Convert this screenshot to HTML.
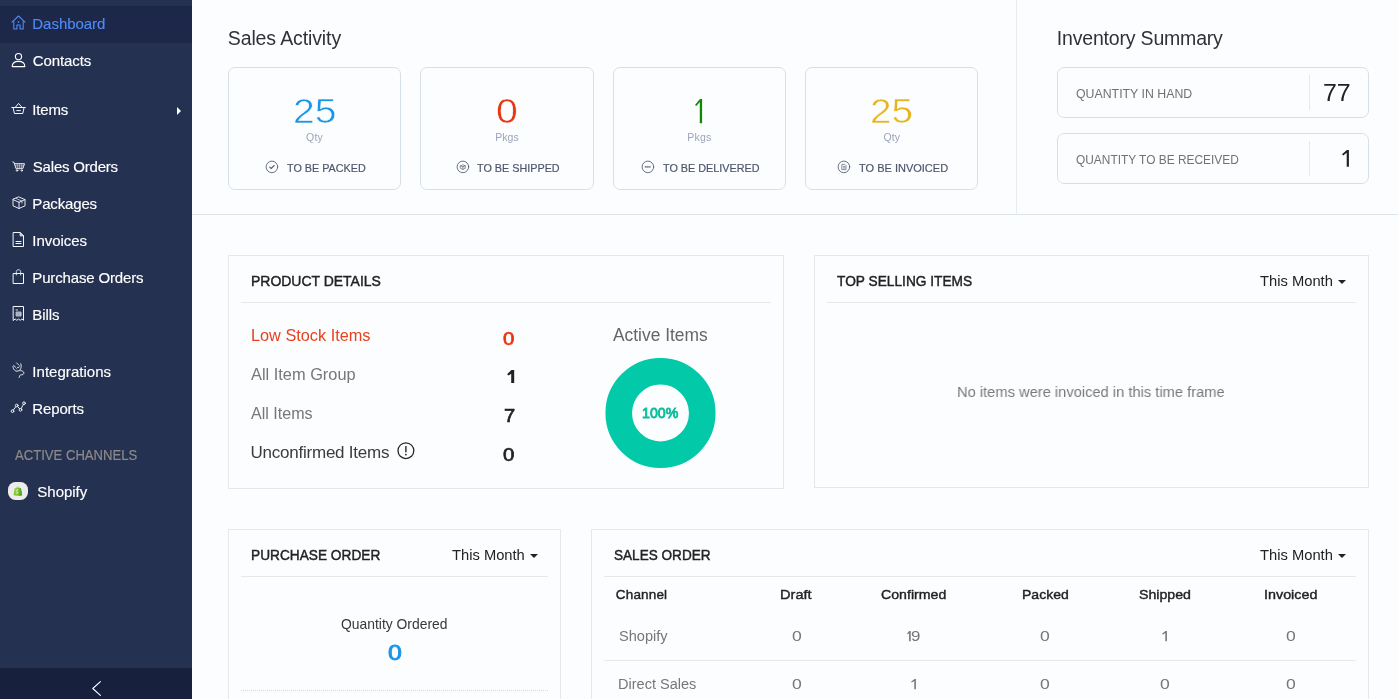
<!DOCTYPE html>
<html>
<head>
<meta charset="utf-8">
<title>Dashboard</title>
<style>
*{box-sizing:border-box;margin:0;padding:0}
html,body{width:1398px;height:699px;overflow:hidden;background:#fcfdff;font-family:"Liberation Sans",sans-serif;color:#222}
#root{position:absolute;left:0;top:0;width:1398px;height:699px;overflow:hidden;will-change:transform}
.abs{position:absolute}
.t{position:absolute;white-space:nowrap;line-height:1}
#side{position:absolute;left:0;top:0;width:192px;height:699px;background:#243150}
#side .act{position:absolute;left:0;top:6px;width:192px;height:37px;background:#1c2749}
#side .bot{position:absolute;left:0;top:668px;width:192px;height:31px;background:#17203d}
.mi{position:absolute;left:33px;color:#fff;font-size:15px;white-space:nowrap;line-height:1;-webkit-text-stroke:0.3px #fff}
.ic{position:absolute;left:11px;width:15px;height:15px}
.ic svg{display:block}
.card{position:absolute;top:67px;height:123px;border:1px solid #d7e0e7;border-radius:7px;background:#fcfdff}
.num{position:absolute;left:0;width:100%;text-align:center;top:29px;font-size:36px;line-height:1}
.unit{position:absolute;left:0;width:100%;text-align:center;top:64px;font-size:11px;color:#99a3b8;line-height:1}
.lbl{position:absolute;top:94px;font-size:12px;color:#4b556b;white-space:nowrap;line-height:1}
.inv{position:absolute;left:1057px;width:312px;height:51px;border:1px solid #d7e0e7;border-radius:7px;background:#fcfdff}
.panel{position:absolute;border:1px solid #e8e8eb;background:#fcfdff}
.ph{position:absolute;font-size:15px;color:#222;white-space:nowrap;line-height:1;-webkit-text-stroke:0.35px #222}
.hr{position:absolute;height:1px;background:#e6e8ec}
.dd{position:absolute;font-size:15px;color:#222;white-space:nowrap;line-height:1}
.caret{position:absolute;width:0;height:0;border-left:4px solid transparent;border-right:4px solid transparent;border-top:4px solid #222}
.th{position:absolute;font-size:14px;color:#222;white-space:nowrap;line-height:1;-webkit-text-stroke:0.35px #222;transform:translateX(-50%)}
.td{position:absolute;font-size:15px;color:#777;white-space:nowrap;line-height:1;transform:translateX(-50%)}
</style>
</head>
<body>
<div id="root">
<!-- SIDEBAR -->
<div id="side">
  <div class="act"></div>
  <div class="bot"></div>
  <!-- home -->
  <svg class="abs" style="left:11px;top:15px" width="15" height="15" viewBox="0 0 15 15" fill="none" stroke="#4f8af5" stroke-width="1.1" stroke-linejoin="round" stroke-linecap="round"><path d="M1 7.2 L7.5 1 L14 7.2"/><path d="M2.8 6.2 V14 H5.9 V10 H9.1 V14 H12.2 V6.2"/><path d="M7.5 6.3 V7.5 M6.9 6.9 H8.1" stroke-width="0.8"/></svg>
  <!-- contacts -->
  <svg class="abs" style="left:11px;top:52px" width="15" height="16" viewBox="0 0 15 16" fill="none" stroke="#fff" stroke-width="1.1" stroke-linejoin="round"><circle cx="7.5" cy="4.6" r="3.1"/><path d="M1.2 14.6 C1.2 10.6 4 9.4 7.5 9.4 C11 9.4 13.8 10.6 13.8 14.6 Z"/></svg>
  <!-- items basket -->
  <svg class="abs" style="left:10px;top:102px" width="17" height="13" viewBox="0 0 17 13" fill="none" stroke="#f4f6fa" stroke-width="1" stroke-linejoin="round" stroke-linecap="round"><path d="M1.8 5.5 H15.4"/><path d="M3.1 5.5 L4.4 11.5 H12.8 L14.1 5.5"/><path d="M5.3 5.3 L8.6 1.4 L11.9 5.3"/><path d="M6.8 8.6 H10.4"/></svg>
  <!-- caret right -->
  <div class="abs" style="left:177px;top:107px;width:0;height:0;border-top:4px solid transparent;border-bottom:4px solid transparent;border-left:4.5px solid #fff"></div>
  <!-- sales orders cart -->
  <svg class="abs" style="left:11.5px;top:160.5px" width="14" height="12" viewBox="0 0 14 12" fill="none" stroke="#f2f4f8" stroke-width="0.95" stroke-linejoin="round" stroke-linecap="round"><path d="M0.8 1 L2 1.3 L4 7.7 H10.8 L12.5 2.7 H2.6"/><path d="M3.2 4.3 H11.9 M3.7 6 H11.3 M5.2 2.9 L5.8 7.5 M7.5 2.9 V7.5 M9.9 2.9 L9.3 7.5" stroke-width="0.55" opacity="0.85"/><circle cx="5" cy="9.5" r="0.75"/><circle cx="9.8" cy="9.5" r="0.75"/></svg>
  <!-- packages box -->
  <svg class="abs" style="left:11.5px;top:195.5px" width="14" height="14" viewBox="0 0 14 14" fill="none" stroke="#f2f4f8" stroke-width="0.95" stroke-linejoin="round" stroke-linecap="round"><path d="M7 1 L13 3.6 V9.8 L7 12.5 L1 9.8 V3.6 Z"/><path d="M1 3.6 L7 6.3 L13 3.6 M7 6.3 V12.5"/><path d="M4 2.4 L10 5.2 V7.2" stroke-width="0.7"/></svg>
  <!-- invoices doc -->
  <svg class="abs" style="left:12px;top:232px" width="13" height="16" viewBox="0 0 13 16" fill="none" stroke="#f4f6fa" stroke-width="1" stroke-linejoin="round" stroke-linecap="round"><path d="M1.5 0.5 H8 L11.5 4 V14.5 H1.5 Z"/><path d="M8 0.5 V4 H11.5 Z" stroke-width="0.6" fill="#f4f6fa" fill-opacity="0.7"/><path d="M4 9.5 H9 M4 11.5 H9" stroke-width="1"/></svg>
  <!-- purchase orders bag -->
  <svg class="abs" style="left:12px;top:268px" width="13" height="17" viewBox="0 0 13 17" fill="none" stroke="#f4f6fa" stroke-width="1" stroke-linejoin="round" stroke-linecap="round"><path d="M1.5 5.5 H11.5 V15.5 H1.5 Z"/><path d="M4.3 7 V3.6 C4.3 1.1 8.7 1.1 8.7 3.6 V7" stroke-width="0.85"/></svg>
  <!-- bills receipt -->
  <svg class="abs" style="left:12px;top:305px" width="13" height="17" viewBox="0 0 13 17" fill="none" stroke="#f4f6fa" stroke-width="1" stroke-linejoin="round" stroke-linecap="round"><path d="M1.5 1.5 H11.5 V15.3 L9.85 14 L8.2 15.3 L6.5 14 L4.8 15.3 L3.15 14 L1.5 15.3 Z"/><path d="M4 5 H5.6" stroke-width="0.9"/><path d="M4.5 7 H9 V11 H4.5 Z M4.5 9 H9" stroke-width="0.7" fill="#f4f6fa" fill-opacity="0.45"/></svg>
  <!-- integrations -->
  <svg class="abs" style="left:11px;top:361px" width="15" height="18" viewBox="0 0 15 18" fill="none" stroke="#f4f6fa" stroke-width="0.95" stroke-linejoin="round" stroke-linecap="round"><path d="M2 5.6 C2.2 8.8 4.4 10.6 7 10 C9.6 9.4 10.9 6.4 9.8 2.8"/><path d="M5.6 1.9 L8 4.3 M2.6 4.4 L4.6 6.2" stroke-width="0.9"/><path d="M5.6 7.4 L6.6 6.4 M7.4 6.8 L8.2 5.6" stroke-width="0.8"/><path d="M9 9.7 C11 9.3 13.4 10.8 12.7 12.7 C12 14.5 9.2 13.3 8.7 14.6 C8.4 15.5 8.6 16 8.2 16.5"/></svg>
  <!-- reports -->
  <svg class="abs" style="left:10px;top:401px" width="17" height="14" viewBox="0 0 17 14" fill="none" stroke="#f4f6fa" stroke-width="0.95" stroke-linejoin="round" stroke-linecap="round"><circle cx="2.5" cy="10.2" r="1.35"/><circle cx="6.7" cy="4.5" r="1.35"/><circle cx="10.5" cy="8.8" r="1.35"/><circle cx="14" cy="2.2" r="1.35"/><path d="M3.30 9.11 L5.90 5.59 M7.59 5.51 L9.61 7.79 M11.13 7.61 L13.37 3.39"/></svg>
  <!-- shopify -->
  <div class="abs" style="left:8px;top:482px;width:20px;height:18px;border-radius:7.5px;background:#ececec"></div>
  <svg class="abs" style="left:13px;top:485.5px" width="10" height="11" viewBox="0 0 10 11"><path d="M1.6 2.6 L6.6 1.8 L8 2.4 L9.2 9.3 L6.4 10 L0.6 9.2 Z" fill="#80c531"/><path d="M6.6 1.8 L8 2.4 L9.2 9.3 L6.4 10 Z" fill="#5da52b"/><path d="M3.2 2.6 C3.4 0.6 5.6 0.2 6 2.2" fill="none" stroke="#6db22c" stroke-width="0.6"/><path d="M5 3.9 C4 3.4 3 3.9 3.2 4.8 C3.4 5.6 4.7 5.8 4.6 6.7 C4.5 7.5 3.4 7.4 2.7 6.9" fill="none" stroke="#fff" stroke-width="0.85"/></svg>
  <!-- collapse chevron -->
  <svg class="abs" style="left:90px;top:679px" width="13" height="19" viewBox="0 0 13 19" fill="none" stroke="#fff" stroke-width="1.1" stroke-linecap="round" stroke-linejoin="round"><path d="M10.4 2.6 L2.8 9.5 L10.4 16.4"/></svg>
</div>

<!-- top section lines -->
<div class="abs" style="left:192px;top:214px;width:1206px;height:1px;background:#dfe4e8"></div>
<div class="abs" style="left:1016px;top:0;width:1px;height:214px;background:#e6ecef"></div>

<!-- cards -->
<div class="card" style="left:228px;width:173px"></div>
<div class="card" style="left:420px;width:174px"></div>
<div class="card" style="left:613px;width:173px"></div>
<div class="card" style="left:805px;width:173px"></div>
<!-- card icons -->
<svg class="abs" style="left:265px;top:160px" width="14" height="14" viewBox="0 0 14 14" fill="none" stroke="#596277" stroke-width="0.9" stroke-linecap="round" stroke-linejoin="round"><circle cx="6.9" cy="6.9" r="5.8"/><path d="M4.7 7.1 L6.2 8.5 L9.2 5.5" stroke-width="1.1"/></svg>
<svg class="abs" style="left:455.7px;top:160px" width="14" height="14" viewBox="0 0 14 14" fill="none" stroke="#596277" stroke-width="0.9" stroke-linecap="round" stroke-linejoin="round"><circle cx="6.9" cy="6.9" r="5.8"/><path d="M4.6 5.8 L6.9 4.8 L9.2 5.8 V8.4 L6.9 9.4 L4.6 8.4 Z M4.6 5.8 L6.9 6.8 L9.2 5.8 M6.9 6.8 V9.4" stroke-width="0.7"/></svg>
<svg class="abs" style="left:641px;top:160px" width="14" height="14" viewBox="0 0 14 14" fill="none" stroke="#596277" stroke-width="0.9" stroke-linecap="round" stroke-linejoin="round"><circle cx="6.9" cy="6.9" r="5.8"/><path d="M4.3 6.9 H9.5" stroke-width="1.3" stroke-dasharray="0.8 1.2"/></svg>
<svg class="abs" style="left:837px;top:160px" width="14" height="14" viewBox="0 0 14 14" fill="none" stroke="#596277" stroke-width="0.9" stroke-linecap="round" stroke-linejoin="round"><circle cx="6.9" cy="6.9" r="5.8"/><path d="M5.2 4.4 H7.8 L9 5.6 V9.6 H5.2 Z M6.2 6.6 H8 M6.2 8 H8" stroke-width="0.7"/></svg>

<!-- inventory boxes -->
<div class="inv" style="top:67px"></div>
<div class="inv" style="top:133px"></div>
<div class="abs" style="left:1309px;top:75px;width:1px;height:35px;background:#e3e8ec"></div>
<div class="abs" style="left:1309px;top:141px;width:1px;height:35px;background:#e3e8ec"></div>

<!-- panels -->
<div class="panel" style="left:228px;top:255px;width:556px;height:234px"></div>
<div class="hr" style="left:241px;top:302px;width:530px"></div>
<div class="panel" style="left:814px;top:255px;width:555px;height:233px"></div>
<div class="hr" style="left:827px;top:302px;width:529px"></div>
<div class="panel" style="left:228px;top:529px;width:333px;height:200px"></div>
<div class="hr" style="left:241px;top:576px;width:307px"></div>
<div class="abs" style="left:241px;top:690px;width:307px;height:0;border-top:1px dotted #d8dade"></div>
<div class="panel" style="left:591px;top:529px;width:778px;height:200px"></div>
<div class="hr" style="left:604px;top:576px;width:752px"></div>
<div class="hr" style="left:604px;top:660px;width:752px"></div>

<!-- carets -->
<div class="caret" style="left:1338px;top:280px"></div>
<div class="caret" style="left:530px;top:554px"></div>
<div class="caret" style="left:1338px;top:554px"></div>

<!-- info icon -->
<svg class="abs" style="left:397px;top:441.5px" width="18" height="18" viewBox="0 0 18 18" fill="none" stroke="#222" stroke-width="1.25" stroke-linecap="round"><circle cx="8.9" cy="8.7" r="7.9"/><path d="M8.9 4.6 V9.8" stroke-width="1.4"/><circle cx="8.9" cy="12.6" r="0.9" fill="#222" stroke="none"/></svg>

<!-- donut -->
<svg class="abs" style="left:600px;top:353px" width="122" height="122" viewBox="0 0 122 122"><circle cx="60.5" cy="60" r="41.75" fill="none" stroke="#02c9a8" stroke-width="26.6"/></svg>

<div class="t" style="top:16.00px;font-size:15px;color:#4f8af5;left:32.33px;letter-spacing:-0.038px;-webkit-text-stroke:0.15px #4f8af5;">Dashboard</div>
<div class="t" style="top:53.00px;font-size:15px;color:#ffffff;left:32.83px;letter-spacing:-0.121px;-webkit-text-stroke:0.15px #ffffff;">Contacts</div>
<div class="t" style="top:102.00px;font-size:15px;color:#ffffff;left:32.33px;letter-spacing:-0.163px;-webkit-text-stroke:0.15px #ffffff;">Items</div>
<div class="t" style="top:159.00px;font-size:15px;color:#ffffff;left:32.83px;letter-spacing:-0.209px;-webkit-text-stroke:0.15px #ffffff;">Sales Orders</div>
<div class="t" style="top:196.00px;font-size:15px;color:#ffffff;left:32.33px;letter-spacing:-0.164px;-webkit-text-stroke:0.15px #ffffff;">Packages</div>
<div class="t" style="top:233.00px;font-size:15px;color:#ffffff;left:32.33px;letter-spacing:-0.043px;-webkit-text-stroke:0.15px #ffffff;">Invoices</div>
<div class="t" style="top:270.00px;font-size:15px;color:#ffffff;left:32.33px;letter-spacing:-0.154px;-webkit-text-stroke:0.15px #ffffff;">Purchase Orders</div>
<div class="t" style="top:307.00px;font-size:15px;color:#ffffff;left:32.33px;letter-spacing:-0.100px;-webkit-text-stroke:0.15px #ffffff;">Bills</div>
<div class="t" style="top:364.00px;font-size:15px;color:#ffffff;left:32.33px;letter-spacing:0.032px;-webkit-text-stroke:0.15px #ffffff;">Integrations</div>
<div class="t" style="top:401.00px;font-size:15px;color:#ffffff;left:32.33px;letter-spacing:-0.150px;-webkit-text-stroke:0.15px #ffffff;">Reports</div>
<div class="t" style="top:448.00px;font-size:14px;color:#8c8a88;left:15.09px;transform:scaleX(0.9355);transform-origin:0 0;-webkit-text-stroke:0.2px #8c8a88;">ACTIVE CHANNELS</div>
<div class="t" style="top:484.00px;font-size:15px;color:#ffffff;left:37.33px;letter-spacing:-0.017px;-webkit-text-stroke:0.15px #ffffff;">Shopify</div>
<div class="t" style="top:29.00px;font-size:19.5px;color:#303237;left:227.80px;letter-spacing:-0.119px;">Sales Activity</div>
<div class="t" style="top:29.00px;font-size:19.5px;color:#303237;left:1056.85px;letter-spacing:-0.191px;">Inventory Summary</div>
<div class="t" style="top:93.00px;font-size:35px;color:#1b95e6;left:292.74px;transform:scaleX(1.1165);transform-origin:0 0;-webkit-text-stroke:0.55px #fcfdff;">25</div>
<div class="t" style="top:132.00px;font-size:10.5px;color:#9ba5b9;left:306.10px;letter-spacing:0.125px;">Qty</div>
<div class="t" style="top:162.00px;font-size:11.6px;color:#4d566b;left:287.06px;transform:scaleX(0.9303);transform-origin:0 0;-webkit-text-stroke:0.2px #4d566b;">TO BE PACKED</div>
<div class="t" style="top:93.00px;font-size:35px;color:#e8350f;left:496.09px;transform:scaleX(1.1235);transform-origin:0 0;-webkit-text-stroke:0.55px #fcfdff;">0</div>
<div class="t" style="top:132.00px;font-size:10.5px;color:#9ba5b9;left:495.25px;letter-spacing:0.050px;">Pkgs</div>
<div class="t" style="top:162.00px;font-size:11.6px;color:#4d566b;left:477.36px;transform:scaleX(0.9320);transform-origin:0 0;-webkit-text-stroke:0.2px #4d566b;">TO BE SHIPPED</div>
<div class="t" style="top:132.00px;font-size:10.5px;color:#9ba5b9;left:687.25px;letter-spacing:0.250px;">Pkgs</div>
<div class="t" style="top:162.00px;font-size:11.6px;color:#4d566b;left:662.86px;transform:scaleX(0.9325);transform-origin:0 0;-webkit-text-stroke:0.2px #4d566b;">TO BE DELIVERED</div>
<div class="t" style="top:93.00px;font-size:35px;color:#e6b41b;left:869.96px;transform:scaleX(1.1080);transform-origin:0 0;-webkit-text-stroke:0.55px #fcfdff;">25</div>
<div class="t" style="top:132.00px;font-size:10.5px;color:#9ba5b9;left:883.50px;letter-spacing:0.125px;">Qty</div>
<div class="t" style="top:162.00px;font-size:11.6px;color:#4d566b;left:858.86px;transform:scaleX(0.9496);transform-origin:0 0;-webkit-text-stroke:0.2px #4d566b;">TO BE INVOICED</div>
<div class="t" style="top:87.00px;font-size:13px;color:#727272;left:1076.33px;transform:scaleX(0.9481);transform-origin:0 0;">QUANTITY IN HAND</div>
<div class="t" style="top:82.00px;font-size:23.5px;color:#222;left:1323.27px;transform:scaleX(1.0611);transform-origin:0 0;">77</div>
<div class="t" style="top:153.00px;font-size:13px;color:#727272;left:1076.34px;transform:scaleX(0.9161);transform-origin:0 0;">QUANTITY TO BE RECEIVED</div>
<div class="t" style="top:273.00px;font-size:15.5px;color:#222;left:250.78px;transform:scaleX(0.9012);transform-origin:0 0;-webkit-text-stroke:0.45px #222;">PRODUCT DETAILS</div>
<div class="t" style="top:327.00px;font-size:17px;color:#e8411e;left:250.80px;transform:scaleX(0.9580);transform-origin:0 0;">Low Stock Items</div>
<div class="t" style="top:366.00px;font-size:17px;color:#777;left:251.20px;transform:scaleX(0.9630);transform-origin:0 0;">All Item Group</div>
<div class="t" style="top:405.00px;font-size:17px;color:#777;left:251.20px;transform:scaleX(0.9457);transform-origin:0 0;">All Items</div>
<div class="t" style="top:444.00px;font-size:17px;color:#3c3c3c;left:250.55px;letter-spacing:-0.234px;">Unconfirmed Items</div>
<div class="t" style="top:330.00px;font-size:18.2px;color:#e8350f;left:502.75px;transform:scaleX(1.1217);transform-origin:0 0;-webkit-text-stroke:0.7px #e8350f;">0</div>
<div class="t" style="top:407.00px;font-size:18.2px;color:#222;left:504.18px;transform:scaleX(1.1061);transform-origin:0 0;-webkit-text-stroke:0.7px #222;">7</div>
<div class="t" style="top:446.00px;font-size:18.2px;color:#222;left:502.75px;transform:scaleX(1.1217);transform-origin:0 0;-webkit-text-stroke:0.7px #222;">0</div>
<div class="t" style="top:326.00px;font-size:18px;color:#666;left:613.40px;transform:scaleX(0.9656);transform-origin:0 0;">Active Items</div>
<div class="t" style="top:405.00px;font-size:15px;color:#0bbf9d;left:642.08px;transform:scaleX(0.9456);transform-origin:0 0;-webkit-text-stroke:0.9px #0bbf9d;">100%</div>
<div class="t" style="top:273.00px;font-size:15.5px;color:#222;left:836.78px;transform:scaleX(0.8850);transform-origin:0 0;-webkit-text-stroke:0.45px #222;">TOP SELLING ITEMS</div>
<div class="t" style="top:273.00px;font-size:15.5px;color:#222;left:1259.56px;transform:scaleX(0.9510);transform-origin:0 0;">This Month</div>
<div class="t" style="top:384.00px;font-size:15.5px;color:#7a7a7a;left:957.22px;transform:scaleX(0.9471);transform-origin:0 0;">No items were invoiced in this time frame</div>
<div class="t" style="top:547.00px;font-size:15.5px;color:#222;left:250.69px;transform:scaleX(0.8832);transform-origin:0 0;-webkit-text-stroke:0.45px #222;">PURCHASE ORDER</div>
<div class="t" style="top:547.00px;font-size:15.5px;color:#222;left:451.66px;transform:scaleX(0.9497);transform-origin:0 0;">This Month</div>
<div class="t" style="top:617.00px;font-size:14.5px;color:#383838;left:341.28px;transform:scaleX(0.9571);transform-origin:0 0;">Quantity Ordered</div>
<div class="t" style="top:642.00px;font-size:22.2px;color:#1b95e6;left:387.56px;transform:scaleX(1.1245);transform-origin:0 0;-webkit-text-stroke:0.9px #1b95e6;">0</div>
<div class="t" style="top:547.00px;font-size:15.5px;color:#222;left:613.84px;transform:scaleX(0.8755);transform-origin:0 0;-webkit-text-stroke:0.45px #222;">SALES ORDER</div>
<div class="t" style="top:547.00px;font-size:15.5px;color:#222;left:1259.56px;transform:scaleX(0.9510);transform-origin:0 0;">This Month</div>
<div class="t" style="top:588.00px;font-size:13.5px;color:#222;left:615.85px;letter-spacing:0.158px;-webkit-text-stroke:0.4px #222;">Channel</div>
<div class="t" style="top:588.00px;font-size:13.5px;color:#222;left:780.13px;transform:scaleX(1.0820);transform-origin:0 0;-webkit-text-stroke:0.4px #222;">Draft</div>
<div class="t" style="top:588.00px;font-size:13.5px;color:#222;left:880.72px;transform:scaleX(1.0482);transform-origin:0 0;-webkit-text-stroke:0.4px #222;">Confirmed</div>
<div class="t" style="top:588.00px;font-size:13.5px;color:#222;left:1021.57px;transform:scaleX(1.0378);transform-origin:0 0;-webkit-text-stroke:0.4px #222;">Packed</div>
<div class="t" style="top:588.00px;font-size:13.5px;color:#222;left:1138.62px;transform:scaleX(1.0496);transform-origin:0 0;-webkit-text-stroke:0.4px #222;">Shipped</div>
<div class="t" style="top:588.00px;font-size:13.5px;color:#222;left:1264.28px;transform:scaleX(1.0627);transform-origin:0 0;-webkit-text-stroke:0.4px #222;">Invoiced</div>
<div class="t" style="top:628.00px;font-size:15.5px;color:#777;left:618.60px;transform:scaleX(0.9399);transform-origin:0 0;">Shopify</div>
<div class="t" style="top:676.00px;font-size:15.5px;color:#777;left:618.13px;transform:scaleX(0.9382);transform-origin:0 0;">Direct Sales</div>
<div class="t" style="top:628.00px;font-size:15.5px;color:#777;left:791.78px;transform:scaleX(1.1333);transform-origin:0 0;">0</div>
<div class="t" style="top:676.00px;font-size:15.5px;color:#777;left:791.78px;transform:scaleX(1.1333);transform-origin:0 0;">0</div>
<div class="t" style="top:628.00px;font-size:15.5px;color:#777;left:910.88px;transform:scaleX(1.0897);transform-origin:0 0;">9</div>
<div class="t" style="top:628.00px;font-size:15.5px;color:#777;left:1040.18px;transform:scaleX(1.1333);transform-origin:0 0;">0</div>
<div class="t" style="top:676.00px;font-size:15.5px;color:#777;left:1040.18px;transform:scaleX(1.1333);transform-origin:0 0;">0</div>
<div class="t" style="top:676.00px;font-size:15.5px;color:#777;left:1159.98px;transform:scaleX(1.1333);transform-origin:0 0;">0</div>
<div class="t" style="top:628.00px;font-size:15.5px;color:#777;left:1286.48px;transform:scaleX(1.1333);transform-origin:0 0;">0</div>
<div class="t" style="top:676.00px;font-size:15.5px;color:#777;left:1286.48px;transform:scaleX(1.1333);transform-origin:0 0;">0</div>
<svg class="abs" style="left:692.80px;top:96.80px" width="11.1" height="28.3"><path d="M9.10 2.00 L9.10 26.30 L6.80 26.30 L6.80 4.95 L3.35 9.00 L2.00 8.07 L7.00 2.00 Z" fill="#0e8a00"/></svg>
<svg class="abs" style="left:1340.00px;top:148.20px" width="10.9" height="20.8"><path d="M8.90 2.00 L8.90 18.80 L6.70 18.80 L6.70 4.82 L3.18 7.40 L2.00 6.37 L6.90 2.00 Z" fill="#222"/></svg>
<svg class="abs" style="left:505.30px;top:368.00px" width="11.2" height="17.0"><path d="M9.20 2.00 L9.20 15.00 L6.20 15.00 L6.20 5.85 L3.71 7.60 L2.00 6.32 L6.40 2.00 Z" fill="#222"/></svg>
<svg class="abs" style="left:904.70px;top:628.70px" width="7.7" height="14.3"><path d="M5.70 2.00 L5.70 12.30 L4.10 12.30 L4.10 4.05 L2.95 5.20 L2.00 4.57 L4.30 2.00 Z" fill="#777"/></svg>
<svg class="abs" style="left:908.70px;top:676.70px" width="8.9" height="14.3"><path d="M6.90 2.00 L6.90 12.30 L5.30 12.30 L5.30 4.05 L2.83 5.50 L2.00 4.72 L5.50 2.00 Z" fill="#777"/></svg>
<svg class="abs" style="left:1160.30px;top:628.70px" width="8.9" height="14.3"><path d="M6.90 2.00 L6.90 12.30 L5.30 12.30 L5.30 4.05 L2.83 5.50 L2.00 4.72 L5.50 2.00 Z" fill="#777"/></svg>
</div>
</body>
</html>
